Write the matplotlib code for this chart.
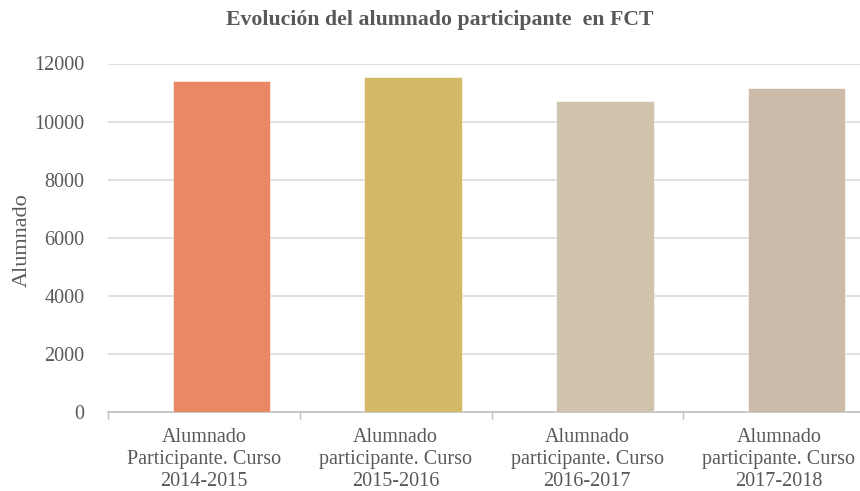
import matplotlib.pyplot as plt

# datos
categorias = ["Alumnado\nParticipante. Curso\n2014-2015",
              "Alumnado\nparticipante. Curso\n2015-2016",
              "Alumnado\nparticipante. Curso\n2016-2017",
              "Alumnado\nparticipante. Curso\n2017-2018"]
alumnado = [11380, 11530, 10700, 11150]
colores = ["#E88864", "#D4B968", "#D0C4AE", "#CDBBAA"]
yticks = [0, 2000, 4000, 6000, 8000, 10000, 12000]

plt.rcParams['font.family'] = ['Liberation Serif', 'DejaVu Serif']
gris = "#595959"

W, H = 860, 491
fig = plt.figure(figsize=(W / 100, H / 100), dpi=100)
x0, y0, x1, y1 = 108.3, 411.7, 860, 63.5
ax = fig.add_axes([x0 / W, 1 - y0 / H, (x1 - x0) / W, (y0 - y1) / H])

pos = list(range(len(alumnado)))
ax.bar(pos, alumnado, width=0.51, color=colores, edgecolor="#FFFFFF",
       linewidth=0.4, zorder=3)

# ejes
desplaz = 0.591
ax.set_xlim(-desplaz, 3.332)
ax.set_ylim(0, 12000)
ax.set_yticks(yticks)
ax.set_yticklabels([str(v) for v in yticks], color=gris, fontsize=14.5)
ax.tick_params(axis="y", length=0, pad=17)

ax.set_xticks([p - desplaz for p in pos])
ax.set_xticklabels([])
ax.tick_params(axis="x", which="major", length=5, color="#BFBFBF", width=1)
ax.set_xticks([p - desplaz + 0.5 for p in pos], minor=True)
ax.set_xticklabels(categorias, minor=True, color=gris, fontsize=14.5,
                   linespacing=1.2)
ax.tick_params(axis="x", which="minor", length=0, pad=12)

ax.yaxis.grid(True, color="#DDDDDD", linewidth=1.3, zorder=0)
ax.set_axisbelow(True)
for s in ["top", "right", "left"]:
    ax.spines[s].set_visible(False)
ax.spines["bottom"].set_color("#BFBFBF")
ax.spines["bottom"].set_linewidth(1.2)

fig.text(440 / W, 1 - 20 / H, "Evolución del alumnado participante  en FCT",
         ha="center", va="center", fontsize=15.7, fontweight="bold", color=gris)
fig.text(22 / W, 1 - 240 / H, "Alumnado", rotation=90, ha="center",
         va="center", fontsize=16, color=gris)

fig.savefig("out.png", dpi=100)
